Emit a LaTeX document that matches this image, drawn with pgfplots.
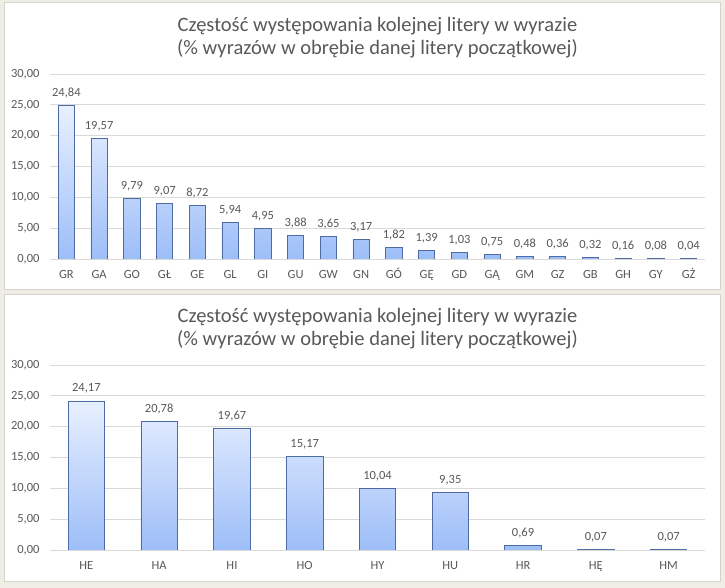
\documentclass[border=0pt]{standalone}
\usepackage{pgfplots}
\pgfplotsset{compat=1.18}
\usepackage{fontspec}
\setmainfont{Carlito}
\definecolor{txt}{HTML}{595959}
\definecolor{gridc}{HTML}{D9D9D9}
\definecolor{barline}{HTML}{4E6CA3}
\definecolor{bartop}{HTML}{E8F0FF}
\definecolor{barbot}{HTML}{9DBEF8}
\definecolor{outer}{HTML}{EEEEE6}
\definecolor{panelb}{HTML}{D4D4CC}
\pgfplotsset{
  mybars/.style={
    scale only axis,
    width=655pt, height=185pt,
    ymin=0, ymax=30, ytick={0,5,...,30},
    axis line style={draw=none},
    major tick length=0pt,
    ymajorgrids, grid style={gridc, line width=0.8pt},
    xtick=data,
    tick label style={font=\fontsize{12.5}{14}\selectfont, text=txt},
    yticklabel style={xshift=-7pt, /pgf/number format/fixed, /pgf/number format/fixed zerofill, /pgf/number format/precision=2, /pgf/number format/use comma},
    /pgf/number format/assume math mode=true,
    xticklabel style={text height=11pt, text depth=3pt, yshift=-5pt},
    title style={font=\fontsize{20.5}{23}\selectfont, text=txt, align=center, anchor=center, at={(rel axis cs:0.5,1)}, yshift=30pt},
    nodes near coords,
    nodes near coords style={font=\fontsize{12.5}{14}\selectfont, text=txt, anchor=base, inner sep=0pt, yshift=9pt,
      /pgf/number format/fixed, /pgf/number format/fixed zerofill, /pgf/number format/precision=2, /pgf/number format/use comma},
  },
}
\begin{document}
\begin{tikzpicture}[x=1pt,y=1pt]
\fill[outer] (0,0) rectangle (725,588);
\filldraw[fill=white, draw=panelb, line width=1pt] (4,298) rectangle (720,585);
\filldraw[fill=white, draw=panelb, line width=1pt] (4,6) rectangle (720,293);
\begin{axis}[mybars, at={(50pt,329pt)}, anchor=south west,
  xmin=-0.5, xmax=19.5,
  xticklabels={GR,GA,GO,GŁ,GE,GL,GI,GU,GW,GN,GÓ,GĘ,GD,GĄ,GM,GZ,GB,GH,GY,GŻ},
  title={Częstość występowania kolejnej litery w wyrazie\\(\% wyrazów w obrębie danej litery początkowej)}]
\addplot[ybar, bar width=0.5, draw=barline, line width=0.8pt, top color=bartop, bottom color=barbot]
coordinates {(0,24.84) (1,19.57) (2,9.79) (3,9.07) (4,8.72) (5,5.94) (6,4.95) (7,3.88) (8,3.65) (9,3.17)
(10,1.82) (11,1.39) (12,1.03) (13,0.75) (14,0.48) (15,0.36) (16,0.32) (17,0.16) (18,0.08) (19,0.04)};
\end{axis}
\begin{axis}[mybars, at={(50pt,38pt)}, anchor=south west,
  xmin=-0.5, xmax=8.5,
  xticklabels={HE,HA,HI,HO,HY,HU,HR,HĘ,HM},
  title={Częstość występowania kolejnej litery w wyrazie\\(\% wyrazów w obrębie danej litery początkowej)}]
\addplot[ybar, bar width=0.5, draw=barline, line width=0.8pt, top color=bartop, bottom color=barbot]
coordinates {(0,24.17) (1,20.78) (2,19.67) (3,15.17) (4,10.04) (5,9.35) (6,0.69) (7,0.07) (8,0.07)};
\end{axis}
\end{tikzpicture}
\end{document}
